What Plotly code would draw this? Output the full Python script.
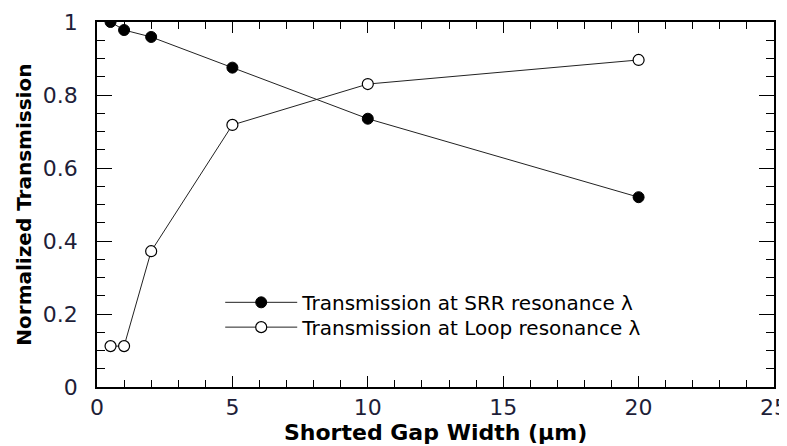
import plotly.graph_objects as go

gap_width = [0.5, 1, 2, 5, 10, 20]
srr_transmission = [1.0, 0.978, 0.959, 0.875, 0.735, 0.52]
loop_transmission = [0.112, 0.112, 0.372, 0.718, 0.83, 0.896]

series_names = ["Transmission at SRR resonance λ", "Transmission at Loop resonance λ"]
x_ticks = [0, 5, 10, 15, 20, 25]
y_ticks = [0, 0.2, 0.4, 0.6, 0.8, 1]
y_tick_text = ["0", "0.2", "0.4", "0.6", "0.8", "1"]
x_title = "Shorted Gap Width (μm)"
y_title = "Normalized Transmission"

FONT = "DejaVu Sans"
TXT = "#1e1e38"

fig = go.Figure()
fig.add_trace(go.Scatter(
    x=gap_width, y=srr_transmission, mode="lines+markers", name=series_names[0],
    line=dict(color="#222222", width=1),
    marker=dict(symbol="circle", size=11, color="black", line=dict(color="black", width=1)),
    legend="legend",
))
fig.add_trace(go.Scatter(
    x=gap_width, y=loop_transmission, mode="lines+markers", name=series_names[1],
    line=dict(color="#222222", width=1),
    marker=dict(symbol="circle", size=11, color="white", line=dict(color="black", width=1.2)),
    legend="legend2",
))

axis_common = dict(
    showline=True, linecolor="black", linewidth=1.5, mirror="allticks",
    ticks="inside", tickcolor="black", tickwidth=1.3,
    showgrid=False, zeroline=False, automargin=False,
    ticklabeloverflow="allow",
    tickfont=dict(family=FONT, size=22, color=TXT),
)

fig.update_xaxes(
    **axis_common, range=[0, 25], tickvals=x_ticks, ticklen=11,
    minor=dict(dtick=1, ticklen=7, ticks="inside", tickcolor="black", tickwidth=1.2, showgrid=False),
)
fig.update_yaxes(
    **axis_common, range=[0, 1], tickvals=y_ticks, ticktext=y_tick_text, ticklen=15,
    ticklabelstandoff=13,
    minor=dict(dtick=0.05, ticklen=8, ticks="inside", tickcolor="black", tickwidth=1.2, showgrid=False),
)

fig.add_annotation(
    text=f"<b>{x_title}</b>", xref="paper", yref="paper", x=0.5, y=-0.125,
    xanchor="center", yanchor="middle", showarrow=False,
    font=dict(family=FONT, size=22, color="black"),
)
fig.add_annotation(
    text=f"<b>{y_title}</b>", xref="paper", yref="paper", x=-0.109, y=0.5,
    xanchor="center", yanchor="middle", showarrow=False, textangle=-90,
    font=dict(family=FONT, size=20, color="black"),
)

legend_common = dict(
    xanchor="left", yanchor="middle",
    font=dict(family=FONT, size=20, color="black"),
    bgcolor="rgba(0,0,0,0)", itemwidth=72,
)

# page body adds an 8px offset, so the figure is sized/margined to compensate
fig.update_layout(
    width=779, height=438,
    margin=dict(l=89, r=13, t=14, b=59),
    paper_bgcolor="white", plot_bgcolor="white",
    showlegend=True,
    legend=dict(x=0.182, y=0.232, **legend_common),
    legend2=dict(x=0.182, y=0.164, **legend_common),
)

fig.write_html("out.html")
